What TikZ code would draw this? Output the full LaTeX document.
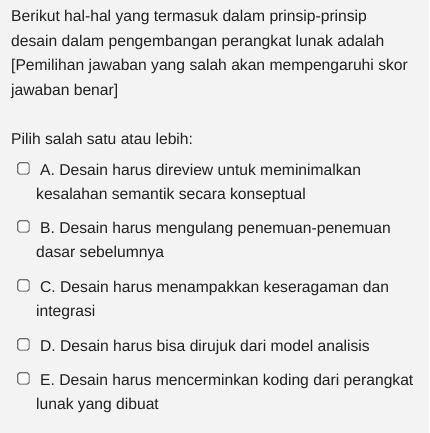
\documentclass[tikz,border=0pt]{standalone}
\usepackage{fontspec}
\setmainfont{Liberation Sans}
\definecolor{bgc}{HTML}{F3F3F3}
\definecolor{txc}{HTML}{212121}
\definecolor{boxc}{HTML}{6E6E6E}
\begin{document}
\begin{tikzpicture}[x=1pt,y=-1pt,
  ln/.style={anchor=base west,inner sep=0pt,text=txc,font=\fontsize{15.65}{18}\selectfont},
  cbox/.style={draw=boxc,line width=1.2pt,rounded corners=1.8pt,minimum size=11.4pt,inner sep=0pt,fill=white}]
\fill[bgc] (0,0) rectangle (429,433);
\useasboundingbox (0,0) rectangle (429,433);
\node[ln] (q1) at (11,22) {Berikut hal-hal yang termasuk dalam prinsip-prinsip};
\node[ln] (q2) at (11,46.5) {desain dalam pengembangan perangkat lunak adalah};
\node[ln] (q3) at (11,71) {[Pemilihan jawaban yang salah akan mempengaruhi skor};
\node[ln] (q4) at (11,95.5) {jawaban benar]};
\node[ln] (p) at (11,144.5) {Pilih salah satu atau lebih:};
\node[cbox] (ca) at (23.4,168.4) {};
\node[ln] (a1) at (40,175) {A. Desain harus direview untuk meminimalkan};
\node[ln] (a2) at (36,199) {kesalahan semantik secara konseptual};
\node[cbox] (cb) at (23.4,226.4) {};
\node[ln] (b1) at (40,233) {B. Desain harus mengulang penemuan-penemuan};
\node[ln] (b2) at (36,257) {dasar sebelumnya};
\node[cbox] (cc) at (23.4,285.4) {};
\node[ln] (c1) at (40,292) {C. Desain harus menampakkan keseragaman dan};
\node[ln] (c2) at (36,316) {integrasi};
\node[cbox] (cd) at (23.4,344.4) {};
\node[ln] (d1) at (40,351) {D. Desain harus bisa dirujuk dari model analisis};
\node[cbox] (ce) at (23.4,378.4) {};
\node[ln] (e1) at (40,385) {E. Desain harus mencerminkan koding dari perangkat};
\node[ln] (e2) at (36,409) {lunak yang dibuat};
\end{tikzpicture}
\end{document}
